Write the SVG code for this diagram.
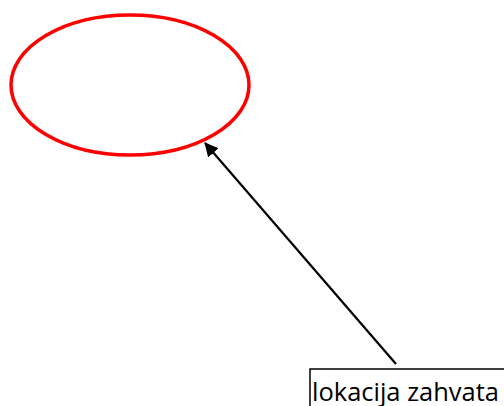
<svg xmlns="http://www.w3.org/2000/svg" width="504" height="406" viewBox="0 0 504 406">
<style>
.lbl{font-family:"Open Sans","Noto Sans",sans-serif;font-size:26px;fill:#000}
</style>
<defs>
<marker id="ah2" markerWidth="14" markerHeight="14" refX="13" refY="7" orient="auto" markerUnits="userSpaceOnUse" viewBox="0 0 14 14">
<path d="M0,0 L14,7 L0,14 z" fill="#000"/>
</marker>
</defs>
<rect width="504" height="406" fill="#fff"/>
<g id="ellipse">
<ellipse cx="130" cy="85" rx="119" ry="70" fill="none" stroke="#ff0000" stroke-width="3.5"/>
</g>
<g id="label">
<rect x="310" y="369" width="200" height="50" fill="#fff" stroke="#000" stroke-width="1.5"/>
<text class="lbl" x="312" y="401" textLength="187" lengthAdjust="spacingAndGlyphs">lokacija zahvata</text>
</g>
<g id="connectors">
<line x1="396" y1="364" x2="205" y2="143" stroke="#000" stroke-width="2.2" marker-end="url(#ah2)"/>
</g>
</svg>
